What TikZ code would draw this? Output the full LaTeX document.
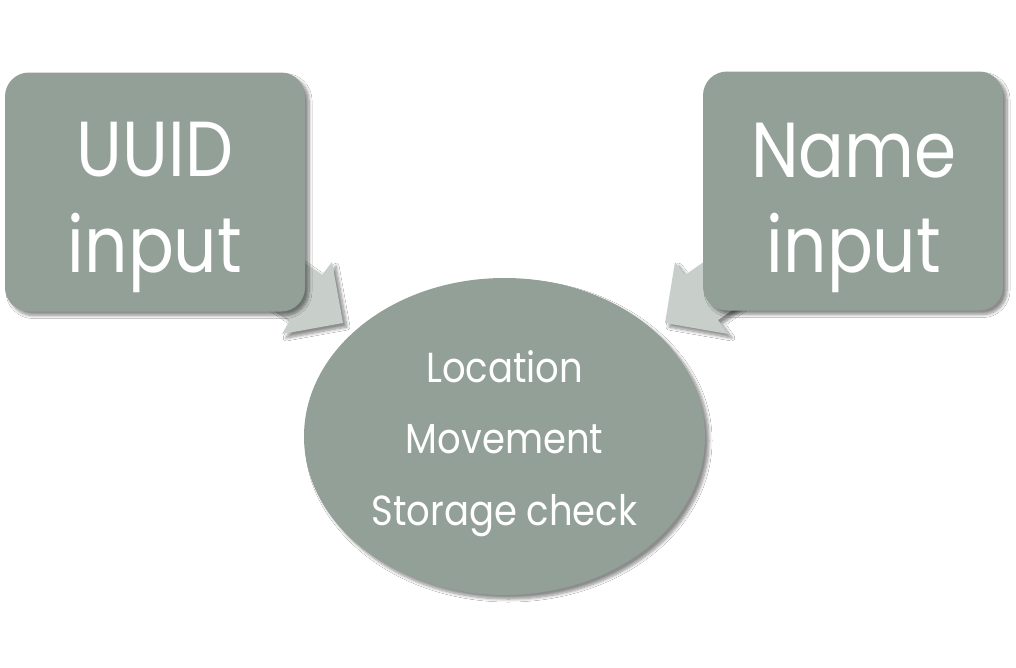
\documentclass[tikz,border=0pt]{standalone}
\usepackage{fontspec}
\setmainfont{Poppins}
\usetikzlibrary{shadows.blur,shapes.geometric}
\definecolor{sage}{RGB}{146,160,151}
\definecolor{pale}{RGB}{200,207,203}
\begin{document}
\begin{tikzpicture}[x=1pt,y=-1pt,
  softshadow/.style={blur shadow={shadow xshift=4pt,shadow yshift=-4pt,shadow blur radius=3pt,shadow blur steps=8,shadow opacity=45}},
  box/.style={draw=none,fill=sage,rounded corners=24pt,minimum width=300pt,minimum height=239pt,inner sep=0pt,softshadow},
  oval/.style={ellipse,draw=none,fill=sage,minimum width=401pt,minimum height=317pt,inner sep=0pt,softshadow},
  bigtxt/.style={text=white,anchor=base,inner sep=0pt,font=\fontsize{78}{80}\selectfont\addfontfeature{FakeStretch=0.87}},
  smalltxt/.style={text=white,anchor=base,inner sep=0pt,font=\fontsize{42}{44}\selectfont\addfontfeature{FakeStretch=0.88}},
  blockarrow/.style={fill=pale,draw=none,softshadow}]
\useasboundingbox (0,0) rectangle (1016,667);
\fill[white] (0,0) rectangle (1016,667);
% block arrows (behind boxes)
\fill[blockarrow] (250,225) -- (322,275) -- (332,262) -- (343,323) -- (282,334) -- (290,320) -- (218,270) -- cycle;
\fill[blockarrow] (757,225) -- (685,275) -- (675,262) -- (665,323) -- (728,334) -- (718,320) -- (790,270) -- cycle;
% boxes
\node[box] (uuid) at (155,192) {};
\node[box] (name) at (853,191) {};
% ellipse
\node[oval] (core) at (504.5,436.5) {};
% texts
\node[bigtxt] (uuidA) at (155,176) {UUID};
\node[bigtxt] (uuidB) at (155,272) {input};
\node[bigtxt] (nameA) at (854,177) {Name};
\node[bigtxt] (nameB) at (854,272) {input};
\node[smalltxt] (loc) at (504.5,382) {Location};
\node[smalltxt] (mov) at (504.5,453) {Movement};
\node[smalltxt] (sto) at (504.5,525) {Storage check};
\end{tikzpicture}
\end{document}
